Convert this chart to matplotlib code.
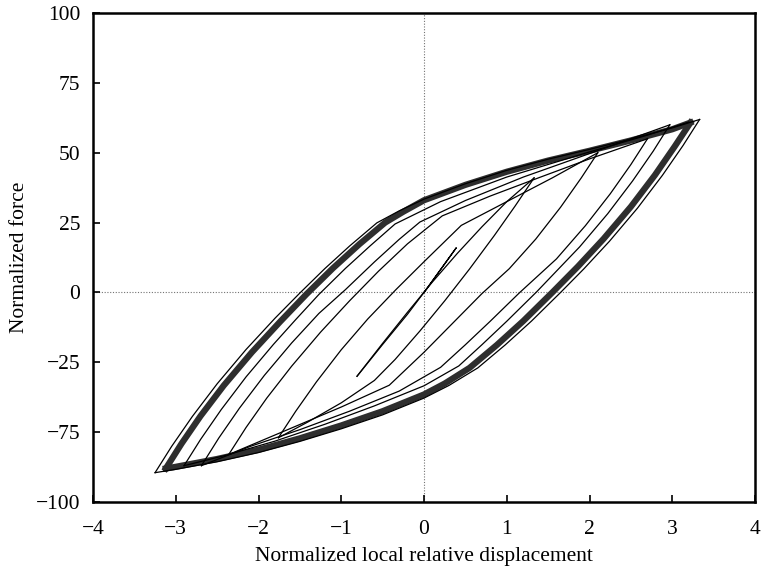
import matplotlib
matplotlib.use('Agg')
import matplotlib.pyplot as plt

plt.rcParams['font.family'] = ['Liberation Serif', 'DejaVu Serif']

# hysteresis branches (displacement, force)
# small loop around the origin
small_x = [0.0, 0.2, 0.39, 0.22, 0.05, -0.2, -0.5, -0.81]
small_y = [0.0, 8.2, 16.0, 9.0, 2.0, -7.8, -18.6, -30.0]

# ascending branches (negative tip -> positive tip)
asc1_x = [-0.81, -0.5, -0.2, 0.1, 0.4, 0.7, 1.0, 1.33]
asc1_y = [-30.0, -18.2, -7.1, 3.7, 13.9, 23.5, 32.5, 41.0]
asc2_x = [-1.76, -1.55, -1.3, -1.0, -0.68, -0.34, 0.0, 0.45, 1.0, 1.55, 2.1]
asc2_y = [-52.0, -42.5, -32.0, -20.5, -9.5, 1.0, 11.0, 24.0, 32.5, 41.0, 50.0]
asc3_x = [-2.36, -2.15, -1.9, -1.6, -1.25, -0.9, -0.55, -0.2, 0.22, 0.8, 1.4, 2.0, 2.7]
asc3_y = [-58.0, -48.3, -37.8, -26.4, -14.2, -3.0, 7.6, 17.4, 27.4, 34.5, 41.2, 47.8, 55.0]
asc4_x = [-2.69, -2.48, -2.23, -1.93, -1.6, -1.27, -0.95, -0.6, -0.3, -0.05, 0.5, 1.2, 2.0, 2.97]
asc4_y = [-62.0, -52.1, -41.4, -29.7, -18.1, -7.5, 1.0, 10.9, 19.0, 25.2, 32.9, 41.3, 49.7, 60.0]
asc5_x = [-2.9, -2.7, -2.45, -2.15, -1.82, -1.55, -1.27, -0.95, -0.65, -0.35, 0.2, 1.0, 2.0, 2.7, 3.2]
asc5_y = [-62.0, -52.6, -41.9, -30.2, -18.6, -9.7, -0.7, 8.6, 16.7, 24.5, 32.5, 41.3, 50.3, 56.3, 61.0]

# descending branches (positive tip -> negative tip)
desc2_x = [1.33, 1.1, 0.85, 0.55, 0.25, -0.05, -0.35, -0.6, -1.0, -1.4, -1.76]
desc2_y = [41.0, 30.9, 20.4, 8.4, -3.0, -13.8, -24.0, -31.5, -39.5, -46.3, -52.0]
desc3_x = [2.1, 1.9, 1.65, 1.35, 1.03, 0.7, 0.35, 0.0, -0.42, -1.0, -1.6, -2.0, -2.36]
desc3_y = [50.0, 41.0, 30.5, 19.1, 8.5, -0.4, -10.9, -21.4, -33.2, -41.0, -48.5, -53.5, -58.0]
desc4_x = [2.7, 2.5, 2.25, 1.95, 1.6, 1.15, 0.8, 0.5, 0.2, -0.3, -0.9, -1.5, -2.1, -2.69]
desc4_y = [55.0, 45.8, 35.3, 23.9, 12.0, -0.2, -10.3, -18.7, -26.8, -35.3, -42.5, -49.1, -55.1, -62.0]
desc5_x = [2.97, 2.77, 2.52, 2.22, 1.88, 1.36, 1.0, 0.7, 0.42, 0.0, -0.6, -1.2, -1.8, -2.4, -2.9]
desc5_y = [60.0, 50.6, 39.9, 28.2, 16.3, 0.2, -10.3, -18.7, -26.3, -33.4, -40.6, -47.2, -53.2, -58.3, -62.0]

# repeated large cycles (dark band)
band_up_x = [-3.12, -2.93, -2.7, -2.42, -2.08, -1.74, -1.42, -1.1, -0.78, -0.47,
             -0.25, 0.0, 0.5, 1.0, 1.5, 2.0, 2.5, 3.0, 3.22]
band_up_y = [-63.0, -54.1, -44.2, -33.3, -21.4, -10.5, -0.6, 8.7, 17.3, 25.0,
             28.9, 33.0, 38.5, 43.2, 47.2, 50.7, 54.4, 58.4, 60.8]
band_dn_x = [3.22, 3.03, 2.79, 2.5, 2.17, 1.86, 1.55, 1.2, 0.88, 0.55,
             0.25, 0.0, -0.5, -1.0, -1.5, -2.0, -2.5, -3.0, -3.12]
band_dn_y = [60.8, 52.3, 42.0, 30.7, 19.2, 9.3, 0.0, -10.2, -18.8, -27.0,
             -32.6, -36.5, -42.5, -47.6, -52.2, -56.3, -59.6, -62.4, -63.0]

# outermost cycle
outer_up_x = [-3.25, -3.05, -2.8, -2.5, -2.15, -1.8, -1.5, -1.2, -0.9, -0.57,
              -0.3, 0.0, 0.5, 1.0, 1.5, 2.0, 2.5, 3.0, 3.33]
outer_up_y = [-64.5, -55.1, -44.4, -32.7, -20.4, -9.2, -0.2, 8.5, 16.6, 24.9,
              29.2, 33.4, 38.9, 43.7, 47.7, 51.2, 54.9, 58.9, 61.9]
outer_dn_x = [3.33, 3.13, 2.88, 2.58, 2.24, 1.93, 1.65, 1.3, 0.98, 0.65,
              0.3, 0.0, -0.5, -1.0, -1.5, -2.0, -2.5, -3.0, -3.25]
outer_dn_y = [61.9, 52.6, 41.9, 30.2, 18.3, 8.4, 0.0, -10.2, -18.8, -27.0,
              -33.3, -37.8, -43.8, -48.8, -53.3, -57.3, -60.6, -63.3, -64.5]

# axis ticks (the printed y labels skip -50)
x_ticks = [-4, -3, -2, -1, 0, 1, 2, 3, 4]
y_ticks = [-75, -50, -25, 0, 25, 50, 75, 100]
y_labels = ['\u2212100', '\u221275', '\u221225', '0', '25', '50', '75', '100']

fig = plt.figure(figsize=(7.61, 5.71), dpi=100)
ax = fig.add_axes([0.1222, 0.1208, 0.870, 0.8564])

ax.axhline(0, color='0.45', lw=0.8, ls=(0, (1, 1.5)), zorder=1)
ax.axvline(0, color='0.45', lw=0.8, ls=(0, (1, 1.5)), zorder=1)

thin = dict(color='black', lw=0.9, zorder=3)
ax.plot(small_x, small_y, **thin)
for xs, ys in [(asc1_x, asc1_y), (asc2_x, asc2_y), (asc3_x, asc3_y),
               (asc4_x, asc4_y), (asc5_x, asc5_y),
               (desc2_x, desc2_y), (desc3_x, desc3_y), (desc4_x, desc4_y),
               (desc5_x, desc5_y)]:
    ax.plot(xs, ys, **thin)

# dark band of repeated cycles
band = dict(color='#2e2e2e', lw=4.5, solid_joinstyle='round', zorder=2)
ax.plot(band_up_x, band_up_y, **band)
ax.plot(band_dn_x, band_dn_y, **band)
ax.plot(outer_up_x, outer_up_y, **thin)
ax.plot(outer_dn_x, outer_dn_y, **thin)

ax.set_xlim(-4, 4)
ax.set_ylim(-75, 100)
ax.set_xticks(x_ticks)
ax.set_yticks(y_ticks)
ax.set_yticklabels(y_labels)

ax.tick_params(direction='in', length=5, width=1.2, labelsize=15.5, top=False, right=False)
ax.tick_params(axis='x', pad=13)
ax.tick_params(axis='y', pad=9)
for sp in ax.spines.values():
    sp.set_linewidth(1.8)

ax.set_xlabel('Normalized local relative displacement', fontsize=15.5, labelpad=6)
ax.set_ylabel('Normalized force', fontsize=15.5, labelpad=5)

fig.savefig('out.png', dpi=100, facecolor='white')
